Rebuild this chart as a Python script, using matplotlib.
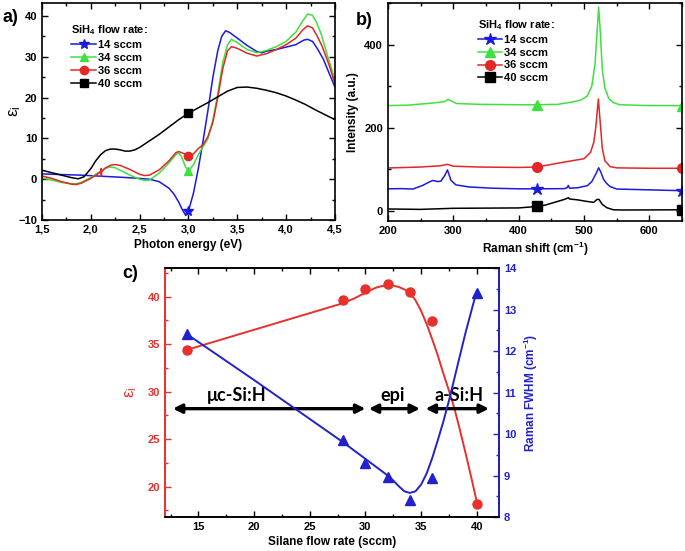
import matplotlib
matplotlib.use("Agg")
import matplotlib.pyplot as plt
from matplotlib.ticker import MultipleLocator

plt.rcParams['font.family'] = ['Liberation Sans', 'DejaVu Sans']
plt.rcParams['font.weight'] = 'bold'
plt.rcParams['mathtext.default'] = 'regular'

# ---------------------------------------------------------
# Colours / labels
# ---------------------------------------------------------
BLUE = '#1a1ae0'
GREEN = '#3ee03e'
RED = '#e42626'
BLACK = 'black'
C_RED = '#e8302c'
C_BLUE = '#2222cc'

flow_labels = ['14 sccm', '34 sccm', '36 sccm', '40 sccm']

# ---------------------------------------------------------
# a) imaginary dielectric function vs photon energy
# ---------------------------------------------------------
e14 = [1.5, 1.7, 1.9, 2.1, 2.3, 2.5, 2.6, 2.7, 2.8, 2.85, 2.9, 2.94, 2.97, 3.0, 3.05, 3.1,
       3.15, 3.2, 3.25, 3.3, 3.34, 3.38, 3.42, 3.5, 3.6, 3.7, 3.75, 3.8, 3.9, 4.0, 4.1,
       4.18, 4.22, 4.27, 4.32, 4.38, 4.44, 4.5]
eps14 = [1.3, 1.15, 1.0, 0.75, 0.5, 0.2, 0.0, -0.6, -2.2, -3.6, -5.6, -7.6, -8.8, -7.8, -3.5, 2.5,
         9.5, 17.0, 25.0, 31.5, 35.0, 36.4, 36.0, 34.6, 32.8, 31.3, 31.0, 31.4, 31.8, 32.4, 33.0,
         34.1, 34.3, 33.8, 32.0, 29.5, 26.0, 22.6]

e34 = [1.5, 1.6, 1.7, 1.8, 1.85, 1.9, 2.0, 2.1, 2.15, 2.2, 2.25, 2.3, 2.4, 2.5, 2.55, 2.6,
       2.7, 2.8, 2.87, 2.9, 2.93, 2.97, 3.0, 3.05, 3.1, 3.15, 3.2, 3.25, 3.3, 3.35, 3.4,
       3.44, 3.5, 3.6, 3.7, 3.8, 3.9, 4.0, 4.1, 4.17, 4.22, 4.27, 4.31, 4.36, 4.42, 4.5]
eps34 = [0.3, -0.2, -0.8, -1.1, -1.1, -0.8, 0.4, 2.0, 2.7, 3.0, 2.8, 2.2, 1.0, 0.0, -0.3, -0.2,
         1.5, 4.0, 6.0, 6.5, 5.5, 3.0, 2.0, 3.5, 6.0, 8.0, 10.0, 14.5, 21.0, 28.5, 33.0,
         34.3, 33.5, 31.8, 31.0, 31.6, 32.5, 33.8, 36.1, 38.8, 40.5, 40.2, 38.5, 35.5, 30.5, 24.4]

e36 = [1.5, 1.6, 1.7, 1.8, 1.85, 1.9, 2.0, 2.07, 2.1, 2.105, 2.108, 2.112, 2.15, 2.2, 2.25,
       2.3, 2.4, 2.5, 2.55, 2.6, 2.7, 2.8, 2.87, 2.9, 2.95, 3.0, 3.05, 3.1, 3.15, 3.2, 3.25,
       3.3, 3.35, 3.4, 3.44, 3.5, 3.6, 3.7, 3.8, 3.9, 4.0, 4.1, 4.17, 4.22, 4.27, 4.32, 4.37,
       4.44, 4.5]
eps36 = [0.8, 0.2, -0.6, -1.2, -1.3, -1.0, 0.2, 1.3, 1.7, 2.6, 0.7, 1.9, 2.8, 3.4, 3.6,
         3.4, 2.4, 1.2, 0.9, 1.0, 2.3, 4.5, 6.5, 6.8, 6.3, 5.7, 6.2, 7.5, 8.5, 10.5, 14.0,
         20.0, 27.0, 31.5, 32.5, 32.1, 30.9, 30.2, 30.8, 31.8, 33.0, 34.6, 36.6, 37.6, 37.1, 35.0, 32.5,
         28.0, 23.4]

e40 = [1.5, 1.6, 1.7, 1.8, 1.87, 1.93, 2.0, 2.05, 2.1, 2.15, 2.2, 2.25, 2.3, 2.35, 2.4,
       2.45, 2.5, 2.6, 2.7, 2.8, 2.9, 3.0, 3.1, 3.2, 3.3, 3.4, 3.5, 3.6, 3.7, 3.8, 3.9,
       4.0, 4.1, 4.2, 4.3, 4.4, 4.5]
eps40 = [2.2, 1.6, 1.0, 0.4, 0.1, 0.6, 2.6, 4.5, 6.0, 7.0, 7.4, 7.4, 7.2, 6.9, 6.9,
         7.2, 7.8, 9.4, 11.0, 12.8, 14.6, 16.2, 17.5, 18.8, 20.2, 21.6, 22.5, 22.6, 22.3, 21.8, 21.2,
         20.4, 19.4, 18.3, 17.0, 15.8, 14.6]

a_mark_e = 3.0
a_xticks = [1.5, 2.0, 2.5, 3.0, 3.5, 4.0, 4.5]
a_xticklabels = ['1,5', '2,0', '2,5', '3,0', '3,5', '4,0', '4,5']
a_yticks = [-10, 0, 10, 20, 30, 40]

# ---------------------------------------------------------
# b) Raman spectra (offset)
# ---------------------------------------------------------
r14 = [200, 220, 238, 253, 262, 268.5, 276, 281, 287, 291, 296.5, 304, 324, 360, 400, 428, 470,
       474, 476, 478, 490, 505, 512, 518, 522.5, 526, 530, 535, 540, 550, 600, 650]
i14 = [52.5, 53, 52, 60.6, 68, 72.7, 70, 71, 85, 98, 72.7, 62, 57, 54, 52.5, 52.5, 53,
       55, 60.6, 54, 55, 60, 70, 88, 103, 92, 75, 65, 58, 52, 50, 48]

r34 = [200, 230, 260, 280, 287, 292, 297, 305, 340, 400, 428, 460, 480, 495, 505, 512, 517,
       520, 522.5, 525, 528, 532, 538, 545, 555, 600, 650]
i34 = [253, 254, 258, 261, 263, 268, 264, 258, 256, 255, 255, 256, 261, 266, 276, 300, 355,
       430, 490, 430, 340, 295, 270, 260, 255, 253, 253]

r36 = [200, 250, 280, 291, 300, 340, 400, 428, 470, 500, 510, 515, 518, 522, 525, 528, 532,
       540, 550, 600, 650]
i36 = [102.7, 105, 108, 111.5, 107, 105, 104, 105, 117, 125, 140, 165, 200, 269, 210, 150, 120,
       106, 103, 102, 102]

r40 = [200, 250, 300, 400, 428, 440, 455, 470, 476, 478, 490, 505, 515, 520, 523, 528, 535,
       545, 560, 650]
i40 = [4, 3, 5.6, 6.5, 10, 13, 20, 27, 31, 28, 26, 22, 20, 27, 27, 15, 7,
       2, 1.5, 2]

b_mark_r = [428, 650]

# ---------------------------------------------------------
# c) epsilon_i max and Raman FWHM vs silane flow
# ---------------------------------------------------------
silane = [14, 28, 30, 32, 34, 36, 40]
eps_max = [34.4, 39.6, 40.8, 41.3, 40.5, 37.4, 18.2]
fwhm = [12.4, 9.85, 9.3, 8.97, 8.4, 8.95, 13.4]

eps_fit_x = [14, 18, 22, 26, 28, 29, 30, 30.5, 31, 31.5, 32, 32.5, 33, 33.5, 34, 34.5, 35,
             35.5, 36, 36.5, 37, 37.5, 38, 38.5, 39, 39.5, 40]
eps_fit_y = [34.4, 35.8, 37.2, 38.6, 39.3, 39.8, 40.4, 40.7, 40.95, 41.1, 41.2, 41.15, 41.0,
             40.75, 40.4, 39.6, 38.5, 37.1, 35.5, 33.8, 31.9, 30.1, 28.2, 25.9, 23.5, 21.0, 18.4]

fwhm_fit_x = [14, 20, 24, 28, 30, 31, 32, 32.5, 33, 33.5, 34, 34.5, 35, 35.5, 36, 36.5, 37,
              37.5, 38, 38.5, 39, 39.5, 40]
fwhm_fit_y = [12.4, 11.3, 10.55, 9.8, 9.4, 9.2, 9.0, 8.88, 8.74, 8.62, 8.58, 8.62, 8.78,
              9.05, 9.42, 9.85, 10.3, 10.8, 11.35, 11.9, 12.45, 12.95, 13.45]

regions = ['\u03bcc-Si:H', 'epi', 'a-Si:H']
region_start = [12.7, 30.3, 35.4]
region_end = [30.0, 34.9, 41.1]
region_text_x = [18.4, 32.4, 38.4]
region_y = 28.2
region_text_y = 29.0


def style_axes(ax, color='black'):
    for s in ax.spines.values():
        s.set_linewidth(1.2)
        s.set_color('black')
    ax.tick_params(which='both', direction='in', top=True, right=True, width=1.0,
                   labelsize=8, colors='black')
    ax.tick_params(which='major', length=4)
    ax.tick_params(which='minor', length=2.2)
    for lab in ax.get_xticklabels() + ax.get_yticklabels():
        lab.set_fontweight('bold')


fig = plt.figure(figsize=(6.85, 5.51), dpi=100)

# ---------------- panel a ----------------
ax_a = fig.add_axes([0.0613, 0.6007, 0.4277, 0.3938])
a_series = [(e14, eps14, BLUE, '*', 7.5), (e34, eps34, GREEN, '^', 6),
            (e36, eps36, RED, 'o', 6), (e40, eps40, BLACK, 's', 5.5)]
for (ex, ey, col, mk, ms), lab in zip(a_series, flow_labels):
    ax_a.plot(ex, ey, color=col, lw=1.1, marker=mk, ms=ms,
              markevery=[ex.index(a_mark_e)], label=lab)
ax_a.set_xlim(1.5, 4.5)
ax_a.set_ylim(-10, 43.2)
ax_a.set_xticks(a_xticks)
ax_a.set_xticklabels(a_xticklabels)
ax_a.set_yticks(a_yticks)
ax_a.xaxis.set_minor_locator(MultipleLocator(0.25))
ax_a.yaxis.set_minor_locator(MultipleLocator(5))
style_axes(ax_a)
ax_a.set_xlabel('Photon energy (eV)', fontsize=8.5, fontweight='bold', labelpad=3)
ax_a.set_ylabel('\u03b5$_{i}$', fontsize=12, fontweight='normal')
ax_a.yaxis.set_label_coords(-0.065, 0.5)
leg = ax_a.legend(loc='upper left', bbox_to_anchor=(0.1, 0.905), frameon=False,
                  title='SiH$_4$ flow rate:', alignment='left', fontsize=8,
                  title_fontproperties={'weight': 'bold', 'size': 8},
                  handlelength=2.2, handletextpad=0.2, labelspacing=0.25, borderpad=0,
                  borderaxespad=0)

# ---------------- panel b ----------------
ax_b = fig.add_axes([0.5664, 0.5989, 0.4292, 0.3956])
b_series = [(r14, i14, BLUE, '*', 9), (r34, i34, GREEN, '^', 7.5),
            (r36, i36, RED, 'o', 7), (r40, i40, BLACK, 's', 6.5)]
for (rx, ry, col, mk, ms), lab in zip(b_series, flow_labels):
    ax_b.plot(rx, ry, color=col, lw=1.1, marker=mk, ms=ms,
              markevery=[rx.index(v) for v in b_mark_r], label=lab)
ax_b.set_xlim(200, 650)
ax_b.set_ylim(-25, 500)
ax_b.set_xticks([200, 300, 400, 500, 600])
ax_b.set_yticks([0, 200, 400])
ax_b.xaxis.set_minor_locator(MultipleLocator(50))
ax_b.yaxis.set_minor_locator(MultipleLocator(100))
style_axes(ax_b)
ax_b.set_xlabel('Raman shift (cm$^{-1}$)', fontsize=8.5, fontweight='bold', labelpad=3)
ax_b.set_ylabel('Intensity (a.u.)', fontsize=8.5, fontweight='bold', labelpad=4)
ax_b.legend(loc='upper left', bbox_to_anchor=(0.305, 0.93), frameon=False,
            title='SiH$_4$ flow rate:', alignment='left', fontsize=8,
            title_fontproperties={'weight': 'bold', 'size': 8},
            handlelength=2.2, handletextpad=0.2, labelspacing=0.25, borderpad=0,
            borderaxespad=0)

# ---------------- panel c ----------------
ax_c = fig.add_axes([0.2409, 0.0617, 0.4876, 0.4519])
ax_c.plot(eps_fit_x, eps_fit_y, color=C_RED, lw=1.4)
ax_c.plot(silane, eps_max, 'o', color=C_RED, ms=6.5, zorder=4)
ax_c.set_xlim(12, 42)
ax_c.set_ylim(16.8, 43)
ax_c.set_xticks([15, 20, 25, 30, 35, 40])
ax_c.set_yticks([20, 25, 30, 35, 40])
ax_c.xaxis.set_minor_locator(MultipleLocator(2.5))
ax_c.yaxis.set_minor_locator(MultipleLocator(2.5))
style_axes(ax_c)
ax_c.tick_params(right=False)
ax_c.tick_params(axis='y', which='both', colors=C_RED)
ax_c.spines['left'].set_color(C_RED)
ax_c.set_xlabel('Silane flow rate (sccm)', fontsize=8.5, fontweight='bold', labelpad=3)
ax_c.set_ylabel('\u03b5$_{i}$', fontsize=12, fontweight='normal', color=C_RED, labelpad=6)

for s, e in zip(region_start, region_end):
    ax_c.annotate('', xy=(e, region_y), xytext=(s, region_y),
                  arrowprops=dict(arrowstyle='<|-|>', color='black', lw=2.4,
                                  mutation_scale=13, shrinkA=0, shrinkB=0))
for t, x in zip(regions, region_text_x):
    ax_c.text(x, region_text_y, t, ha='center', va='baseline', fontsize=13,
              fontweight='bold', family=['Lato', 'DejaVu Sans'])

ax_c2 = ax_c.twinx()
ax_c2.plot(fwhm_fit_x, fwhm_fit_y, color=C_BLUE, lw=1.4)
ax_c2.plot(silane, fwhm, '^', color=C_BLUE, ms=7, zorder=4)
ax_c2.set_ylim(8, 14)
ax_c2.set_yticks([8, 9, 10, 11, 12, 13, 14])
ax_c2.yaxis.set_minor_locator(MultipleLocator(0.5))
for s in ax_c2.spines.values():
    s.set_linewidth(1.2)
ax_c2.spines['right'].set_color(C_BLUE)
ax_c2.spines['left'].set_color(C_RED)
ax_c2.tick_params(axis='y', which='both', direction='in', colors=C_BLUE, labelsize=8, width=1.0)
ax_c2.tick_params(axis='y', which='major', length=4)
ax_c2.tick_params(axis='y', which='minor', length=2.2)
for lab in ax_c2.get_yticklabels():
    lab.set_fontweight('bold')
ax_c2.set_ylabel('Raman FWHM (cm$^{-1}$)', fontsize=8.5, fontweight='bold', color=C_BLUE,
                 labelpad=4)

# panel letters
fig.text(0.004, 0.968, 'a)', fontsize=13, fontweight='bold', va='center')
fig.text(0.519, 0.963, 'b)', fontsize=13, fontweight='bold', va='center')
fig.text(0.178, 0.503, 'c)', fontsize=13, fontweight='bold', va='center')

fig.savefig('out.png', dpi=100)
